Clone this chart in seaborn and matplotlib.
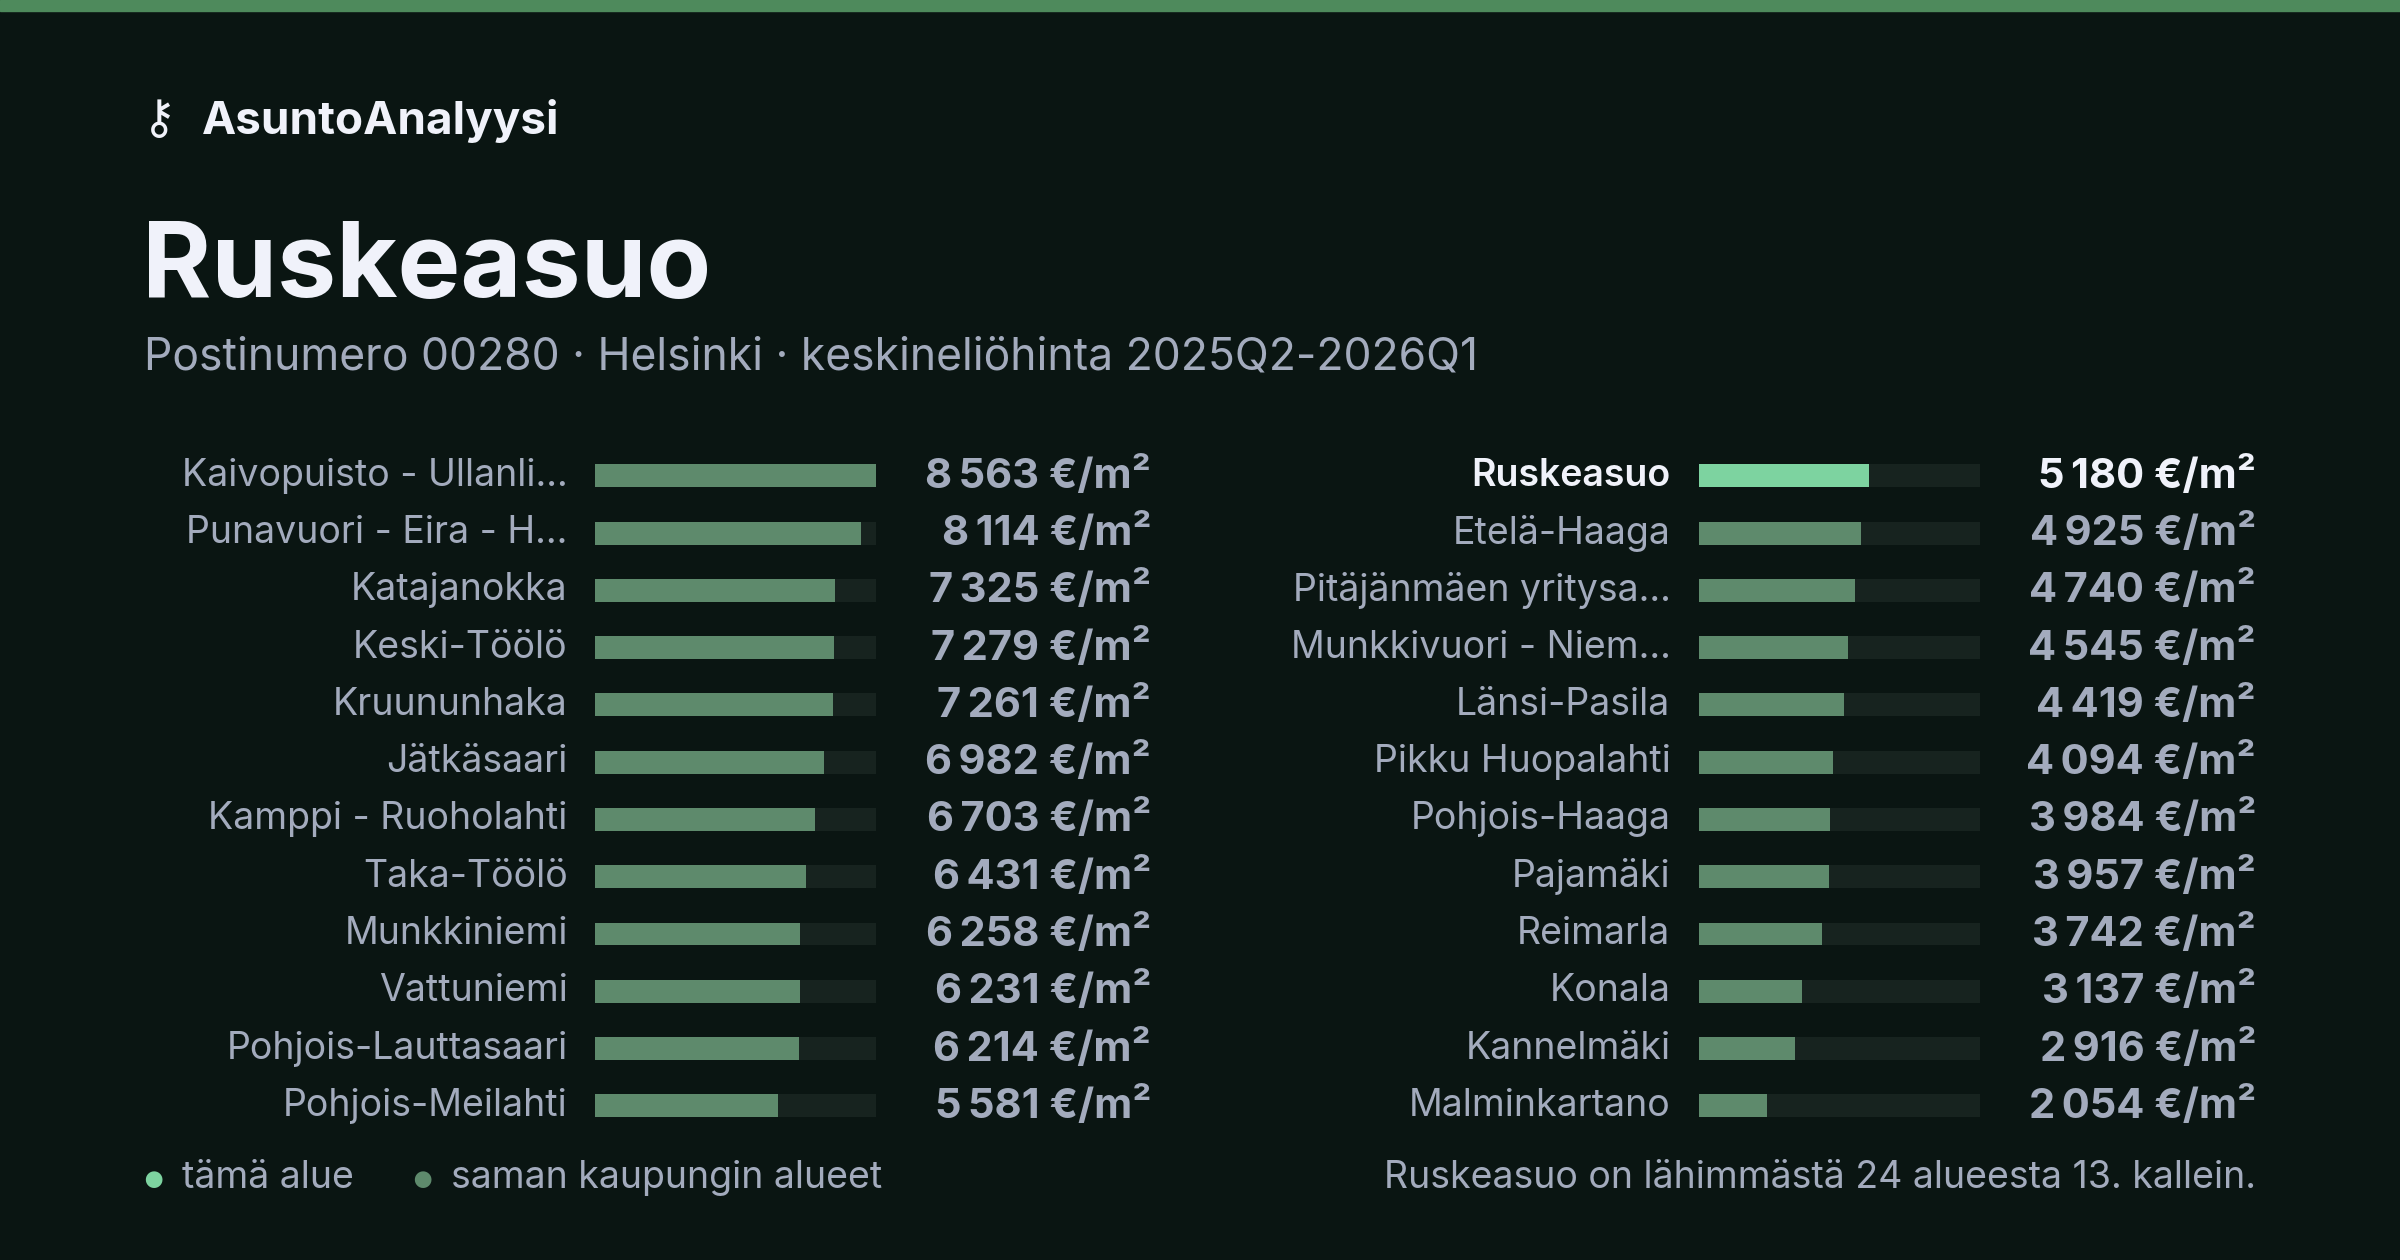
import matplotlib
matplotlib.use("Agg")
import matplotlib.pyplot as plt
import seaborn as sns
import pandas as pd

# data
left_names = ["Kaivopuisto - Ullanli…", "Punavuori - Eira - H…", "Katajanokka", "Keski-Töölö",
              "Kruununhaka", "Jätkäsaari", "Kamppi - Ruoholahti", "Taka-Töölö",
              "Munkkiniemi", "Vattuniemi", "Pohjois-Lauttasaari", "Pohjois-Meilahti"]
left_values = [8563, 8114, 7325, 7279, 7261, 6982, 6703, 6431, 6258, 6231, 6214, 5581]
right_names = ["Ruskeasuo", "Etelä-Haaga", "Pitäjänmäen yritysa…", "Munkkivuori - Niem…",
               "Länsi-Pasila", "Pikku Huopalahti", "Pohjois-Haaga", "Pajamäki",
               "Reimarla", "Konala", "Kannelmäki", "Malminkartano"]
right_values = [5180, 4925, 4740, 4545, 4419, 4094, 3984, 3957, 3742, 3137, 2916, 2054]
highlight = "Ruskeasuo"

BG = "#0a1512"
TRACK = "#17231f"
BAR = "#5e8a6c"
HL = "#7dd3a0"
GREY = "#a3abbd"
WHITE = "#f0f2fa"

sns.set_theme(style="white")
plt.rcParams["font.family"] = ["Inter", "DejaVu Sans"]

fig = plt.figure(figsize=(24, 12.6), dpi=100, facecolor=BG)
vmax = max(left_values + right_values)

def fmt(v):
    return f"{v:,}".replace(",", "\u2009") + " €/m²"

def column(x0, x1, names, values, label_x, value_x):
    ax = fig.add_axes([x0, 0.0996, x1 - x0, 0.5455])
    ax.set_facecolor(BG)
    df = pd.DataFrame({"name": names, "value": values, "track": [vmax] * len(names)})
    sns.barplot(data=df, x="track", y="name", color=TRACK, width=0.4, ax=ax,
                saturation=1, linewidth=0)
    colors = [HL if n == highlight else BAR for n in names]
    sns.barplot(data=df, x="value", y="name", hue="name", palette=colors, legend=False,
                width=0.4, ax=ax, saturation=1, linewidth=0)
    ax.set_xlim(0, vmax)
    ax.set_ylim(len(names) - 0.5, -0.5)
    ax.axis("off")
    for i, (n, v) in enumerate(zip(names, values)):
        hl = n == highlight
        c = WHITE if hl else GREY
        ax.text(label_x, i, n, transform=ax.get_yaxis_transform(), ha="right", va="center",
                fontsize=27, color=c, fontweight="semibold" if hl else "normal")
        ax.text(value_x, i, fmt(v), transform=ax.get_yaxis_transform(), ha="right", va="center",
                fontsize=30, color=c, fontweight="bold")
    return ax

w = 0.365 - 0.248
column(0.248, 0.365, left_names, left_values, (0.2366 - 0.248) / w, (0.4796 - 0.248) / w)
column(0.708, 0.825, right_names, right_values, (0.696 - 0.708) / w, (0.940 - 0.708) / w)

# top stripe
fig.add_artist(plt.Rectangle((0, 0.991), 1, 0.009, transform=fig.transFigure, color="#4e8a5c"))

fig.text(0.059, 0.904, "⚷", fontsize=34, color=WHITE, va="center", family=["DejaVu Sans"])
fig.text(0.084, 0.904, "AsuntoAnalyysi", fontsize=33, color=WHITE, fontweight="bold", va="center")
fig.text(0.059, 0.786, "Ruskeasuo", fontsize=76, color=WHITE, fontweight="bold", va="center")
fig.text(0.060, 0.716, "Postinumero 00280 · Helsinki · keskineliöhinta 2025Q2-2026Q1",
         fontsize=32, color=GREY, va="center")

fig.text(0.064, 0.062, "●", fontsize=16, color=HL, va="center", ha="center")
fig.text(0.076, 0.065, "tämä alue", fontsize=27, color=GREY, va="center")
fig.text(0.176, 0.062, "●", fontsize=16, color=BAR, va="center", ha="center")
fig.text(0.188, 0.065, "saman kaupungin alueet", fontsize=27, color=GREY, va="center")
fig.text(0.940, 0.065, "Ruskeasuo on lähimmästä 24 alueesta 13. kallein.", fontsize=27,
         color=GREY, va="center", ha="right")

fig.savefig("out.png", facecolor=BG)
